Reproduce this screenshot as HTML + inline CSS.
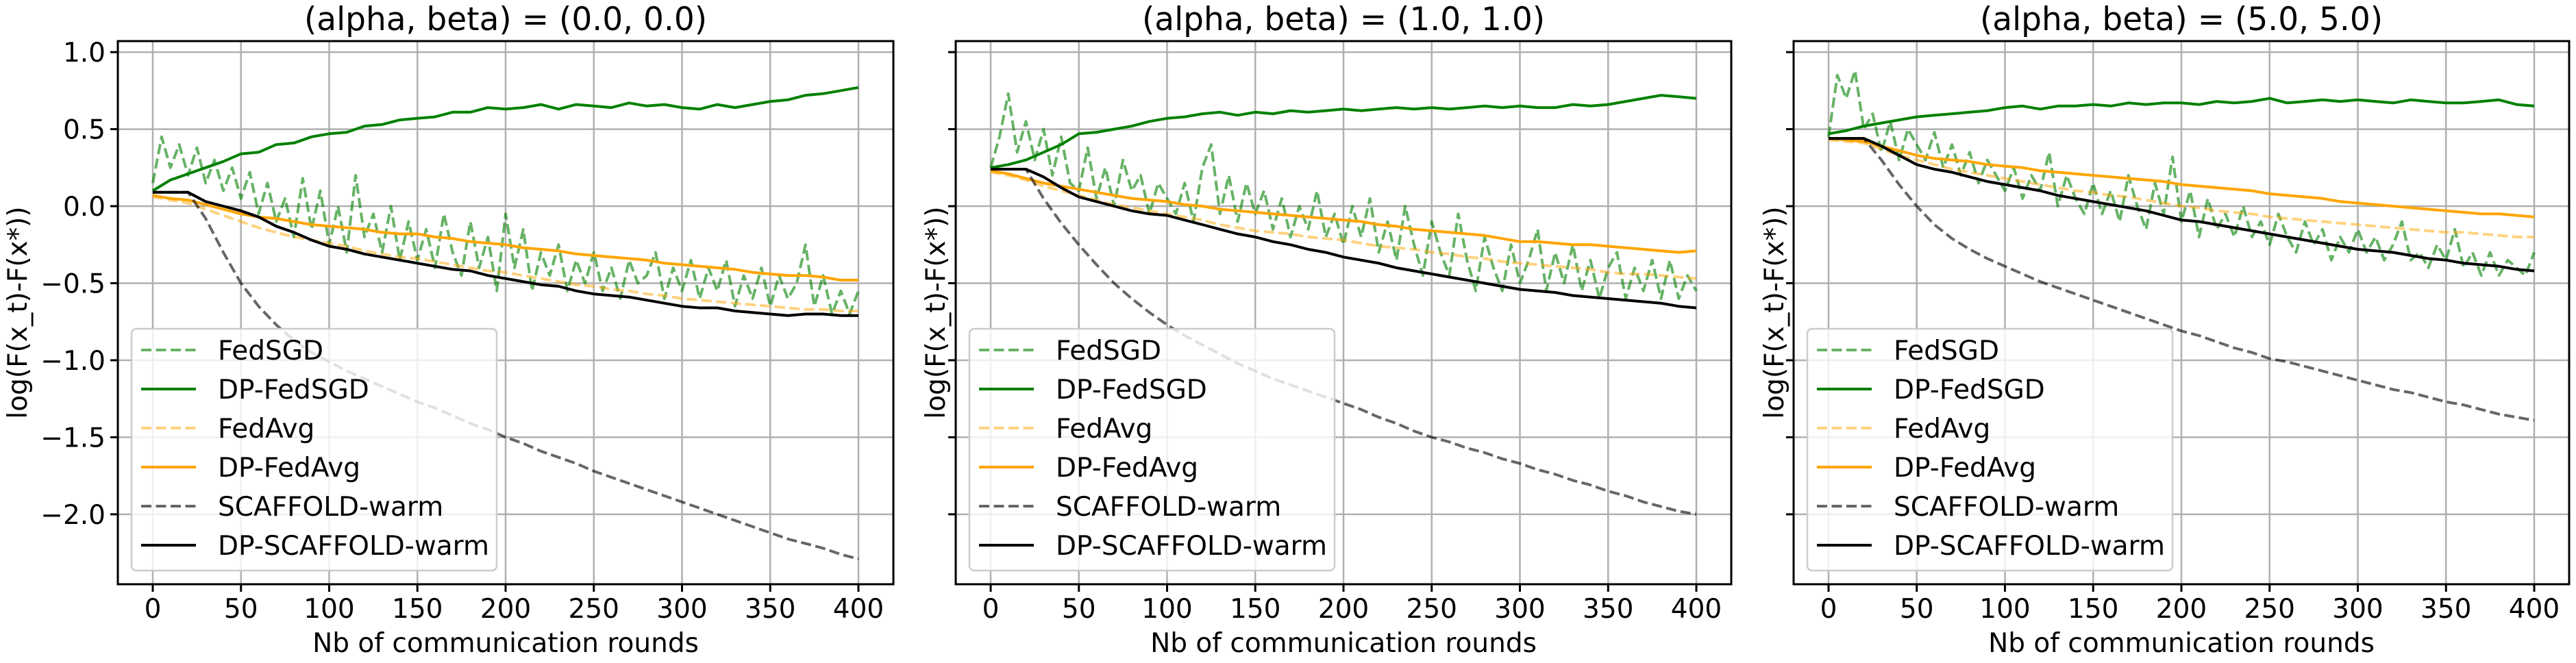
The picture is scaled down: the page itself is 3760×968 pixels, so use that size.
<!DOCTYPE html>
<html><head><meta charset="utf-8">
<style>
html,body{margin:0;padding:0;background:#fff;}
svg{display:block;font-family:"DejaVu Sans","Liberation Sans",sans-serif;}
</style></head>
<body>
<svg id="fig" width="3760" height="968" viewBox="0 0 3760 968" xmlns="http://www.w3.org/2000/svg"></svg>
<script>
const rounds10=[0,10,20,30,40,50,60,70,80,90,100,110,120,130,140,150,160,170,180,190,200,210,220,230,240,250,260,270,280,290,300,310,320,330,340,350,360,370,380,390,400];
const rounds5=[0,5,10,15,20,25,30,35,40,45,50,55,60,65,70,75,80,85,90,95,100,105,110,115,120,125,130,135,140,145,150,155,160,165,170,175,180,185,190,195,200,205,210,215,220,225,230,235,240,245,250,255,260,265,270,275,280,285,290,295,300,305,310,315,320,325,330,335,340,345,350,355,360,365,370,375,380,385,390,395,400];
const xTicks=[0,50,100,150,200,250,300,350,400];
const yTicks=[1.0,0.5,0.0,-0.5,-1.0,-1.5,-2.0];
const yTickLabels=["1.0","0.5","0.0","\u22120.5","\u22121.0","\u22121.5","\u22122.0"];
const titles=["(alpha, beta) = (0.0, 0.0)","(alpha, beta) = (1.0, 1.0)","(alpha, beta) = (5.0, 5.0)"];
const legendLabels=["FedSGD","DP-FedSGD","FedAvg","DP-FedAvg","SCAFFOLD-warm","DP-SCAFFOLD-warm"];

const fedsgd1=[0.15,0.45,0.25,0.40,0.20,0.38,0.15,0.30,0.10,0.25,0.05,0.22,-0.05,0.15,-0.10,0.05,-0.20,0.18,-0.15,0.10,-0.25,0.0,-0.30,0.20,-0.20,-0.05,-0.30,0.0,-0.35,-0.10,-0.35,-0.15,-0.40,-0.05,-0.30,-0.45,-0.10,-0.40,-0.20,-0.55,-0.05,-0.40,-0.15,-0.55,-0.30,-0.45,-0.25,-0.55,-0.35,-0.50,-0.30,-0.55,-0.40,-0.60,-0.35,-0.50,-0.45,-0.30,-0.60,-0.40,-0.55,-0.35,-0.60,-0.40,-0.55,-0.35,-0.65,-0.45,-0.60,-0.40,-0.65,-0.45,-0.60,-0.50,-0.25,-0.65,-0.45,-0.70,-0.55,-0.70,-0.55];
const dpfedsgd1=[0.10,0.17,0.21,0.25,0.29,0.34,0.35,0.40,0.41,0.45,0.47,0.48,0.52,0.53,0.56,0.57,0.58,0.61,0.61,0.64,0.63,0.64,0.66,0.63,0.66,0.65,0.64,0.67,0.65,0.66,0.64,0.63,0.66,0.64,0.66,0.68,0.69,0.72,0.73,0.75,0.77];
const fedavg1=[0.06,0.04,0.02,-0.02,-0.06,-0.10,-0.14,-0.17,-0.20,-0.22,-0.24,-0.26,-0.29,-0.31,-0.33,-0.34,-0.36,-0.38,-0.40,-0.42,-0.43,-0.45,-0.47,-0.49,-0.51,-0.52,-0.54,-0.55,-0.57,-0.58,-0.60,-0.61,-0.62,-0.63,-0.64,-0.65,-0.66,-0.67,-0.67,-0.68,-0.68];
const dpfedavg1=[0.07,0.05,0.04,0.01,-0.02,-0.05,-0.07,-0.08,-0.10,-0.12,-0.13,-0.14,-0.15,-0.17,-0.18,-0.18,-0.20,-0.21,-0.23,-0.24,-0.25,-0.27,-0.28,-0.29,-0.31,-0.32,-0.33,-0.34,-0.35,-0.37,-0.38,-0.39,-0.40,-0.41,-0.43,-0.44,-0.45,-0.45,-0.46,-0.48,-0.48];
const scaf1=[0.09,0.09,0.09,-0.08,-0.30,-0.50,-0.65,-0.77,-0.87,-0.95,-1.01,-1.07,-1.12,-1.17,-1.22,-1.27,-1.31,-1.36,-1.41,-1.45,-1.50,-1.54,-1.59,-1.63,-1.67,-1.72,-1.76,-1.80,-1.84,-1.88,-1.92,-1.96,-2.00,-2.04,-2.08,-2.12,-2.16,-2.19,-2.22,-2.26,-2.29];
const dpscaf1=[0.09,0.09,0.09,0.03,0.00,-0.03,-0.07,-0.13,-0.17,-0.22,-0.26,-0.28,-0.31,-0.33,-0.35,-0.37,-0.39,-0.41,-0.42,-0.45,-0.47,-0.49,-0.51,-0.52,-0.55,-0.57,-0.58,-0.59,-0.61,-0.63,-0.65,-0.66,-0.66,-0.68,-0.69,-0.70,-0.71,-0.70,-0.70,-0.71,-0.71];

const fedsgd2=[0.25,0.45,0.73,0.35,0.55,0.30,0.50,0.20,0.45,0.15,0.10,0.38,0.05,0.25,0.00,0.30,0.10,0.20,-0.05,0.15,0.05,-0.05,0.15,-0.10,0.25,0.40,-0.05,0.20,-0.10,0.15,-0.05,0.10,-0.15,0.05,-0.20,0.00,-0.15,0.10,-0.20,-0.05,-0.25,0.00,-0.20,0.05,-0.30,-0.10,-0.35,0.00,-0.25,-0.45,-0.10,-0.30,-0.45,-0.05,-0.35,-0.55,-0.20,-0.40,-0.55,-0.25,-0.50,-0.35,-0.15,-0.55,-0.30,-0.50,-0.25,-0.55,-0.35,-0.60,-0.40,-0.30,-0.60,-0.40,-0.55,-0.35,-0.60,-0.35,-0.60,-0.45,-0.55];
const dpfedsgd2=[0.25,0.27,0.30,0.35,0.40,0.47,0.48,0.50,0.52,0.55,0.57,0.58,0.60,0.61,0.59,0.61,0.60,0.62,0.61,0.62,0.63,0.62,0.63,0.64,0.63,0.64,0.63,0.64,0.65,0.64,0.65,0.64,0.64,0.66,0.65,0.66,0.68,0.70,0.72,0.71,0.70];
const fedavg2=[0.22,0.20,0.17,0.13,0.10,0.07,0.04,0.01,-0.01,-0.03,-0.05,-0.07,-0.09,-0.12,-0.14,-0.16,-0.17,-0.18,-0.20,-0.21,-0.22,-0.24,-0.26,-0.27,-0.28,-0.30,-0.31,-0.33,-0.34,-0.36,-0.37,-0.38,-0.39,-0.40,-0.41,-0.43,-0.44,-0.44,-0.45,-0.46,-0.47];
const dpfedavg2=[0.23,0.21,0.18,0.15,0.13,0.11,0.09,0.07,0.05,0.04,0.03,0.01,0.00,-0.02,-0.03,-0.04,-0.05,-0.06,-0.07,-0.08,-0.09,-0.10,-0.12,-0.13,-0.15,-0.16,-0.17,-0.18,-0.19,-0.21,-0.23,-0.23,-0.24,-0.25,-0.25,-0.26,-0.27,-0.28,-0.29,-0.30,-0.29];
const scaf2=[0.24,0.24,0.24,0.05,-0.11,-0.25,-0.38,-0.50,-0.60,-0.69,-0.77,-0.84,-0.90,-0.96,-1.02,-1.07,-1.12,-1.16,-1.20,-1.24,-1.28,-1.32,-1.37,-1.41,-1.46,-1.50,-1.53,-1.57,-1.60,-1.64,-1.67,-1.71,-1.74,-1.78,-1.81,-1.85,-1.88,-1.92,-1.95,-1.98,-2.00];
const dpscaf2=[0.24,0.24,0.24,0.19,0.12,0.06,0.03,0.00,-0.03,-0.05,-0.06,-0.09,-0.12,-0.15,-0.18,-0.20,-0.23,-0.25,-0.28,-0.30,-0.33,-0.35,-0.37,-0.40,-0.42,-0.44,-0.46,-0.48,-0.50,-0.52,-0.54,-0.55,-0.56,-0.58,-0.59,-0.60,-0.61,-0.62,-0.63,-0.65,-0.66];

const fedsgd3=[0.45,0.85,0.70,0.88,0.50,0.60,0.35,0.55,0.30,0.50,0.40,0.30,0.48,0.25,0.40,0.20,0.35,0.15,0.30,0.20,0.10,0.25,0.05,0.20,0.10,0.35,0.00,0.20,0.05,-0.05,0.15,-0.05,0.10,-0.10,0.20,0.00,-0.15,0.15,-0.05,0.32,-0.10,0.10,-0.20,0.05,-0.15,-0.05,-0.20,0.00,-0.20,-0.10,-0.25,-0.05,-0.20,-0.30,-0.10,-0.25,-0.15,-0.35,-0.20,-0.30,-0.15,-0.30,-0.20,-0.35,-0.25,-0.10,-0.35,-0.30,-0.40,-0.25,-0.35,-0.15,-0.40,-0.30,-0.45,-0.30,-0.45,-0.35,-0.40,-0.45,-0.30];
const dpfedsgd3=[0.47,0.49,0.52,0.54,0.56,0.58,0.59,0.60,0.61,0.62,0.64,0.65,0.63,0.65,0.65,0.66,0.65,0.67,0.66,0.67,0.67,0.66,0.68,0.67,0.68,0.70,0.67,0.68,0.69,0.68,0.69,0.68,0.67,0.69,0.68,0.67,0.67,0.68,0.69,0.66,0.65];
const fedavg3=[0.43,0.42,0.41,0.37,0.33,0.30,0.27,0.24,0.22,0.20,0.18,0.16,0.14,0.12,0.10,0.09,0.07,0.06,0.04,0.02,0.00,-0.01,-0.03,-0.04,-0.05,-0.07,-0.08,-0.09,-0.10,-0.11,-0.12,-0.13,-0.14,-0.15,-0.16,-0.17,-0.17,-0.18,-0.19,-0.20,-0.20];
const dpfedavg3=[0.44,0.43,0.42,0.39,0.36,0.33,0.31,0.30,0.29,0.27,0.26,0.25,0.23,0.22,0.21,0.20,0.19,0.18,0.17,0.16,0.14,0.13,0.12,0.11,0.10,0.08,0.07,0.06,0.05,0.03,0.02,0.01,0.00,-0.01,-0.02,-0.03,-0.04,-0.05,-0.05,-0.06,-0.07];
const scaf3=[0.44,0.44,0.44,0.30,0.14,0.00,-0.12,-0.21,-0.28,-0.34,-0.39,-0.44,-0.49,-0.53,-0.57,-0.61,-0.65,-0.69,-0.73,-0.77,-0.81,-0.84,-0.88,-0.92,-0.95,-0.99,-1.01,-1.04,-1.07,-1.10,-1.13,-1.16,-1.19,-1.21,-1.24,-1.27,-1.29,-1.32,-1.35,-1.37,-1.39];
const dpscaf3=[0.44,0.44,0.44,0.39,0.33,0.27,0.24,0.22,0.19,0.16,0.14,0.12,0.10,0.07,0.05,0.03,0.01,-0.01,-0.03,-0.06,-0.09,-0.10,-0.12,-0.14,-0.16,-0.18,-0.20,-0.22,-0.24,-0.26,-0.28,-0.29,-0.30,-0.32,-0.34,-0.35,-0.37,-0.38,-0.39,-0.41,-0.42];

const NS="http://www.w3.org/2000/svg";
const svg=document.getElementById('fig');
function mk(tag,attrs,parent){const e=document.createElementNS(NS,tag);for(const k in attrs)e.setAttribute(k,attrs[k]);(parent||svg).appendChild(e);return e;}

const styles=[
 {stroke:"#008000",op:0.6,dash:"15,6.5"},
 {stroke:"#008000",op:1,dash:null},
 {stroke:"#ffa500",op:0.5,dash:"15,6.5"},
 {stroke:"#ffa500",op:1,dash:null},
 {stroke:"#000000",op:0.6,dash:"15,6.5"},
 {stroke:"#000000",op:1,dash:null}
];
const seriesNames=["fedsgd","dp-fedsgd","fedavg","dp-fedavg","scaffold-warm","dp-scaffold-warm"];
const panels=[
 {left:172,data:[fedsgd1,dpfedsgd1,fedavg1,dpfedavg1,scaf1,dpscaf1],ylab:25,ticks:true},
 {left:1395,data:[fedsgd2,dpfedsgd2,fedavg2,dpfedavg2,scaf2,dpscaf2],ylab:1365,ticks:false},
 {left:2618,data:[fedsgd3,dpfedsgd3,fedavg3,dpfedavg3,scaf3,dpscaf3],ylab:2589,ticks:false}
];
const W=1132, TOP=60, BOT=853;
const XMIN=-19.8, XMAX=419.8, YMIN=-2.454, YMAX=1.0716;

panels.forEach((p,pi)=>{
  const g=mk('g',{});
  
  
  const xs=v=>p.left+(v-XMIN)/(XMAX-XMIN)*W;
  const ys=v=>BOT-(v-YMIN)/(YMAX-YMIN)*(BOT-TOP);
  // grid
  xTicks.forEach(t=>{const l=mk('line',{x1:xs(t),x2:xs(t),y1:TOP,y2:BOT,stroke:"#b0b0b0","stroke-width":2.5},g);
    });
  yTicks.forEach(t=>{const l=mk('line',{x1:p.left,x2:p.left+W,y1:ys(t),y2:ys(t),stroke:"#b0b0b0","stroke-width":2.5},g);
    });
  // series
  p.data.forEach((arr,si)=>{
    const xsArr=arr.length>50?rounds5:rounds10;
    let d="";
    for(let i=0;i<Math.min(arr.length,xsArr.length);i++){d+=(i?"L":"M")+xs(xsArr[i]).toFixed(1)+","+ys(arr[i]).toFixed(1);}
    const st=styles[si];
    const path=mk('path',{d:d,fill:"none",stroke:st.stroke,"stroke-opacity":st.op,"stroke-width":4,"stroke-linejoin":"round"},g);
    if(st.dash)path.setAttribute('stroke-dasharray',st.dash);
    
    
  });
  // frame
  const fr=mk('rect',{x:p.left,y:TOP,width:W,height:BOT-TOP,fill:"none",stroke:"#000","stroke-width":3},g);
  
  // x ticks
  xTicks.forEach(t=>{mk('line',{x1:xs(t),x2:xs(t),y1:BOT,y2:BOT+11,stroke:"#000","stroke-width":3},g);
    const tx=mk('text',{x:xs(t),y:902,"font-size":39,"text-anchor":"middle",fill:"#000"},g);
    tx.textContent=t;});
  yTicks.forEach((t,i)=>{mk('line',{x1:p.left-11,x2:p.left,y1:ys(t),y2:ys(t),stroke:"#000","stroke-width":3},g);
    if(p.ticks){const tx=mk('text',{x:p.left-18,y:ys(t)+14,"font-size":39,"text-anchor":"end",fill:"#000"},g);
      tx.textContent=yTickLabels[i];}});
  const xl=mk('text',{x:p.left+W/2,y:952,"font-size":39,"text-anchor":"middle",fill:"#000"},g);
  xl.textContent="Nb of communication rounds";
  const yl=mk('text',{x:0,y:0,"font-size":39,"text-anchor":"middle",fill:"#000",transform:"translate("+(p.ylab+14)+","+((TOP+BOT)/2)+") rotate(-90)"},g);
  yl.textContent="log(F(x_t)-F(x*))";
  const ti=mk('text',{x:p.left+W/2,y:44,"font-size":47,"text-anchor":"middle",fill:"#000"},g);
  ti.textContent=titles[pi];
  // legend
  const lg=mk('g',{},g);
  
  mk('rect',{x:p.left+20,y:480,width:533,height:353,rx:7,fill:"#fff","fill-opacity":0.8,stroke:"#cccccc","stroke-width":2.5},lg);
  legendLabels.forEach((lab,i)=>{
    const y=511+i*57;
    const st=styles[i];
    const ln=mk('line',{x1:p.left+34,x2:p.left+114,y1:y,y2:y,stroke:st.stroke,"stroke-opacity":st.op,"stroke-width":4},lg);
    if(st.dash)ln.setAttribute('stroke-dasharray',st.dash);
    
    const tx=mk('text',{x:p.left+146,y:y+14,"font-size":39,fill:"#000"},lg);
    tx.textContent=lab;
  });
});
</script>
</body></html>
